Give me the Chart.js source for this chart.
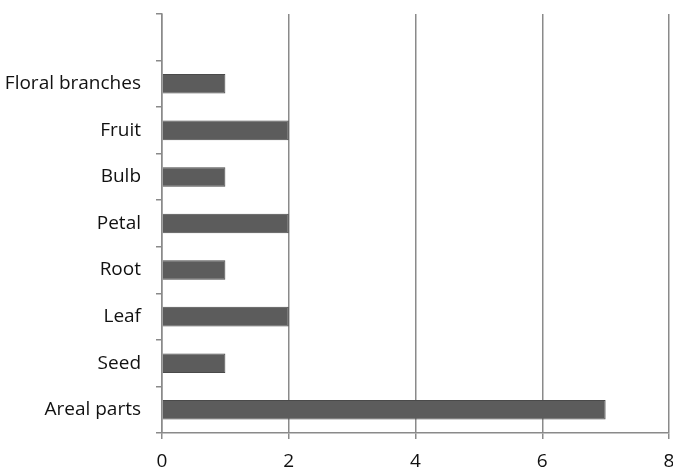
<!DOCTYPE html>
<html>
<head>
	<meta charset="utf-8">
	<script src="https://cdn.jsdelivr.net/npm/chart.js@4"></script>
	<style>
		html, body { margin: 0; padding: 0; background: #fff; }
		#wrap { position: relative; width: 673px; height: 472px; }
	</style>
</head>
<body>
	<div id="wrap"><canvas id="plant-parts"></canvas></div>
	<script>
		// categories top to bottom, first slot is left empty like the original
		const parts = ['', 'Floral branches', 'Fruit', 'Bulb', 'Petal', 'Root', 'Leaf', 'Seed', 'Areal parts'];
		const counts = [null, 1, 2, 1, 2, 1, 2, 1, 7];
		const xTicks = [0, 2, 4, 6, 8];

		const axisGray = '#8a8a8a';

		new Chart(document.getElementById('plant-parts'), {
			type: 'bar',
			data: {
				labels: parts,
				datasets: [{
					data: counts,
					backgroundColor: '#5c5c5c',
					borderColor: '#4a4a4a',
					borderWidth: 1,
					categoryPercentage: 1,
					barPercentage: 0.42
				}]
			},
			options: {
				indexAxis: 'y',
				responsive: true,
				maintainAspectRatio: false,
				animation: false,
				layout: { padding: { top: 14, left: 0, right: 0, bottom: 0 } },
				plugins: {
					legend: { display: false },
					tooltip: { enabled: false }
				},
				scales: {
					x: {
						min: xTicks[0],
						max: xTicks[xTicks.length - 1],
						afterBuildTicks: axis => { axis.ticks = xTicks.map(v => ({ value: v })); },
						afterFit: axis => {
							axis.height = 39;
							axis.paddingLeft = 0;
							axis.paddingRight = 4;
						},
						grid: { color: axisGray, lineWidth: 1.5, tickLength: 6 },
						border: { color: axisGray, width: 1.5 },
						ticks: {
							color: '#111',
							padding: 11,
							font: { family: 'Open Sans', size: 19 }
						}
					},
					y: {
						afterFit: axis => {
							axis.width = 162;
							axis.paddingTop = 0;
							axis.paddingBottom = 0;
						},
						grid: { drawOnChartArea: false, color: axisGray, lineWidth: 1.5, tickLength: 6, offset: true },
						border: { color: axisGray, width: 1.5 },
						ticks: {
							color: '#111',
							padding: 15,
							font: { family: 'Open Sans', size: 19 }
						}
					}
				}
			}
		});
	</script>
</body>
</html>
